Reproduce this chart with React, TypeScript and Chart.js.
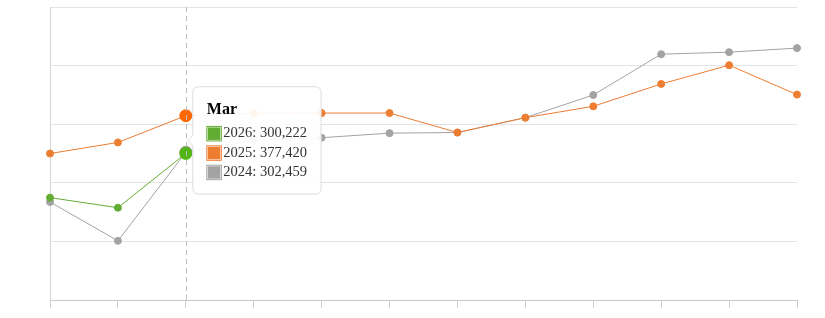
import React, { useEffect, useRef } from 'react';
import { Chart, registerables } from 'chart.js';

Chart.register(...registerables);

const months = ['Jan', 'Feb', 'Mar', 'Apr', 'May', 'Jun', 'Jul', 'Aug', 'Sep', 'Oct', 'Nov', 'Dec'];
const seriesLabels = ['2026', '2025', '2024'];
const values2026 = [209600, 189000, 300222];
const values2025 = [300000, 322600, 377420, 382000, 382800, 382800, 343000, 373400, 396600, 442400, 480800, 420600];
const values2024 = [200700, 121200, 302459, 327000, 332300, 341700, 343000, 373400, 419800, 503400, 507500, 515800];
const yMin = 0;
const yMax = 600000;
const yStep = 120000;
const hoverIndex = 2;

const colors = ['#62AC33', '#ED7D31', '#A3A3A3'];

const crosshair = {
  id: 'crosshair',
  afterDatasetsDraw(chart: any) {
    const active = chart.getActiveElements();
    if (!active.length) return;
    const x = Math.round(active[0].element.x) + 0.5;
    const { top, bottom } = chart.chartArea;
    const ctx = chart.ctx;
    ctx.save();
    ctx.strokeStyle = '#bdbdbd';
    ctx.lineWidth = 1;
    ctx.setLineDash([5, 4]);
    ctx.beginPath();
    ctx.moveTo(x, top);
    ctx.lineTo(x, bottom);
    ctx.stroke();
    ctx.restore();
  },
};

export default function App() {
  const ref = useRef<HTMLCanvasElement | null>(null);

  useEffect(() => {
    if (!ref.current) return;
    Chart.defaults.font.family = "'Liberation Serif', 'Times New Roman', serif";
    const data = [values2026, values2025, values2024];
    const chart = new Chart(ref.current, {
      type: 'line',
      data: {
        labels: months,
        datasets: data.map((vals, i) => ({
          label: seriesLabels[i],
          data: vals,
          borderColor: colors[i],
          backgroundColor: colors[i],
          pointBackgroundColor: colors[i],
          pointBorderColor: colors[i],
          borderWidth: 1,
          pointRadius: 3.5,
          pointBorderWidth: 1,
          pointHoverRadius: 6,
          pointHoverBorderWidth: 1,
          tension: 0,
          fill: false,
        })),
      },
      options: {
        animation: false,
        responsive: true,
        maintainAspectRatio: false,
        events: [],
        layout: { autoPadding: false, padding: { left: 50, top: 7, right: 28, bottom: 10 } },
        scales: {
          x: {
            offset: false,
            ticks: { display: false },
            grid: { display: true, drawOnChartArea: false, drawTicks: true, tickLength: 8, color: '#cfcfcf' },
            border: { display: true, color: '#c8c8c8' },
          },
          y: {
            min: yMin,
            max: yMax,
            ticks: { display: false, stepSize: yStep },
            grid: { color: '#e4e4e4', drawTicks: false },
            border: { display: true, color: '#d6d6d6' },
          },
        },
        plugins: {
          legend: { display: false },
          tooltip: {
            enabled: true,
            mode: 'index',
            intersect: false,
            backgroundColor: 'rgba(255,255,255,0.92)',
            borderColor: '#dcdcdc',
            borderWidth: 1,
            cornerRadius: 6,
            titleColor: '#000',
            bodyColor: '#333',
            titleFont: { size: 16, weight: 'bold' },
            bodyFont: { size: 14.5 },
            padding: { top: 13, bottom: 13, left: 14, right: 14 },
            caretSize: 5,
            caretPadding: 2,
            titleMarginBottom: 6,
            bodySpacing: 2,
          },
        },
      },
      plugins: [crosshair],
    });
    const active = [0, 1, 2].map((d) => ({ datasetIndex: d, index: hoverIndex }));
    chart.setActiveElements(active);
    const el: any = chart.getDatasetMeta(1).data[hoverIndex];
    chart.tooltip?.setActiveElements(active, { x: el.x, y: el.y });
    chart.update();
    return () => chart.destroy();
  }, []);

  return (
    <div style={{ position: 'absolute', left: 0, top: 0, width: 825, height: 318 }}>
      <canvas ref={ref} />
    </div>
  );
}
